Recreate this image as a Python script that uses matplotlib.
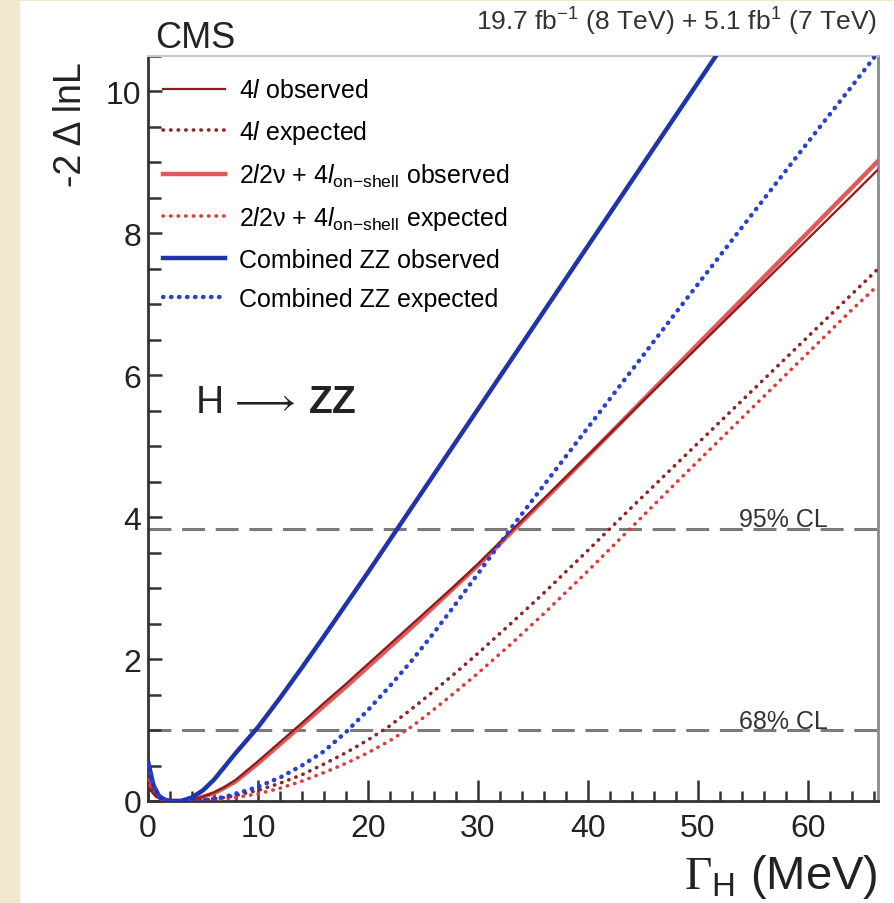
import numpy as np
import matplotlib
matplotlib.use('Agg')
import matplotlib.pyplot as plt
from matplotlib.patches import Rectangle
from matplotlib.ticker import MultipleLocator

plt.rcParams['font.family'] = ['Liberation Sans', 'DejaVu Sans']
plt.rcParams['mathtext.fontset'] = 'custom'
plt.rcParams['mathtext.rm'] = 'Liberation Sans'
plt.rcParams['mathtext.it'] = 'Liberation Sans:italic'
plt.rcParams['mathtext.bf'] = 'Liberation Sans:bold'
plt.rcParams['mathtext.sf'] = 'Liberation Sans'
plt.rcParams['mathtext.cal'] = 'Liberation Serif'

# ---------------- data ----------------
gamma = [0, 0.5, 1, 1.5, 2, 3, 4, 5, 6, 7, 8, 10, 12, 14, 16, 18, 20, 22, 24, 26,
         28, 30, 33, 36, 40, 44, 48, 52, 56, 60, 64, 66.4]
l4_obs = [0.2, 0.1, 0.04, 0.01, 0.0, 0.0, 0.02, 0.06, 0.12, 0.2, 0.3, 0.56, 0.83, 1.1,
          1.38, 1.65, 1.93, 2.21, 2.49, 2.77, 3.05, 3.34, 3.8, 4.26, 4.87, 5.48, 6.09,
          6.7, 7.31, 7.92, 8.53, 8.9]
l2v_obs = [0.25, 0.12, 0.05, 0.015, 0.0, 0.0, 0.02, 0.06, 0.11, 0.19, 0.28, 0.53, 0.8,
           1.07, 1.34, 1.61, 1.89, 2.17, 2.45, 2.74, 3.03, 3.32, 3.78, 4.24, 4.86, 5.49,
           6.12, 6.75, 7.38, 8.01, 8.64, 9.02]
l4_exp = [0.25, 0.1, 0.04, 0.015, 0.005, 0.0, 0.0, 0.01, 0.03, 0.05, 0.08, 0.15, 0.25,
          0.37, 0.52, 0.68, 0.86, 1.06, 1.3, 1.55, 1.81, 2.08, 2.5, 2.93, 3.53, 4.14,
          4.74, 5.34, 5.94, 6.54, 7.14, 7.5]
l2v_exp = [0.3, 0.12, 0.05, 0.02, 0.005, 0.0, 0.0, 0.005, 0.015, 0.03, 0.05, 0.1, 0.18,
           0.28, 0.4, 0.53, 0.68, 0.85, 1.05, 1.29, 1.54, 1.8, 2.21, 2.64, 3.24, 3.86,
           4.48, 5.09, 5.7, 6.31, 6.92, 7.27]
comb_exp = [0.5, 0.2, 0.07, 0.02, 0.0, 0.0, 0.0, 0.01, 0.03, 0.06, 0.1, 0.2, 0.33, 0.5,
            0.7, 0.97, 1.28, 1.62, 1.98, 2.37, 2.78, 3.2, 3.84, 4.45, 5.26, 6.07, 6.88,
            7.68, 8.48, 9.28, 10.07, 10.55]
gamma_comb = [0, 0.5, 1, 1.5, 2, 3, 4, 5, 6, 7, 8, 10, 12, 14, 16, 18, 20, 22, 24, 26,
              28, 30, 33, 36, 40, 44, 48, 52, 53]
comb_obs = [0.56, 0.22, 0.07, 0.02, 0.0, 0.0, 0.05, 0.15, 0.3, 0.49, 0.68, 1.04, 1.45,
            1.88, 2.32, 2.77, 3.22, 3.68, 4.14, 4.6, 5.06, 5.52, 6.21, 6.9, 7.82,
            8.74, 9.66, 10.58, 10.8]
cl_levels = [1.0, 3.84]
cl_labels = ['68% CL', '95% CL']

labels = [r'4$\mathit{l}$ observed',
          r'4$\mathit{l}$ expected',
          r'2$\mathit{l}$2ν + 4$\mathit{l}_{\mathsf{on}\mathsf{-}\mathsf{shell}}$ observed',
          r'2$\mathit{l}$2ν + 4$\mathit{l}_{\mathsf{on}\mathsf{-}\mathsf{shell}}$ expected',
          'Combined ZZ observed',
          'Combined ZZ expected']

# ---------------- figure ----------------
W, H = 895, 904
fig = plt.figure(figsize=(W / 100, H / 100), dpi=100, facecolor='#F2E8CE')
fig.add_artist(Rectangle((20 / W, 0), 1 - 20 / W, 1 - 2 / H, transform=fig.transFigure,
                         facecolor='white', edgecolor='none', zorder=-10))
ax = fig.add_axes([148 / W, 1 - 802 / H, 730 / W, 745 / H])
ax.set_xlim(0, 66.4)
ax.set_ylim(0, 10.5)

for lev, lab in zip(cl_levels, cl_labels):
    ax.axhline(lev, color='#7a7a7a', lw=2.2, ls=(0, (7.5, 3.5)), zorder=1)
    ax.text(61.8, lev + 0.03, lab, ha='right', va='baseline', fontsize=18, color='#333333')

h2 = ax.plot(gamma, l2v_obs, color='#E05A5A', lw=3.2, zorder=3)[0]
h1 = ax.plot(gamma, l4_obs, color='#8E1B1B', lw=1.6, zorder=4)[0]
h3 = ax.plot(gamma, l4_exp, color='#8E2525', lw=2.6, ls=(0, (0.1, 2.0)),
             dash_capstyle='round', zorder=3)[0]
h4 = ax.plot(gamma, l2v_exp, color='#E23A3A', lw=2.6, ls=(0, (0.1, 2.0)),
             dash_capstyle='round', zorder=3)[0]
h5 = ax.plot(gamma_comb, comb_obs, color='#1E34A8', lw=3.2, zorder=5)[0]
h6 = ax.plot(gamma, comb_exp, color='#2A40D0', lw=3.2, ls=(0, (0.1, 1.7)),
             dash_capstyle='round', zorder=5)[0]

ax.legend([h1, h3, h2, h4, h5, h6], labels, loc='upper left',
          bbox_to_anchor=(0.02, 0.970), frameon=False, fontsize=18,
          handlelength=2.5, handletextpad=0.55, labelspacing=0.62,
          borderpad=0, borderaxespad=0)

# axes styling
ax.xaxis.set_major_locator(MultipleLocator(10))
ax.xaxis.set_minor_locator(MultipleLocator(2))
ax.yaxis.set_major_locator(MultipleLocator(2))
ax.yaxis.set_minor_locator(MultipleLocator(0.5))
ax.tick_params(axis='both', which='both', direction='in', top=False, right=False,
               colors='#333333', labelcolor='#222222', width=1.8)
ax.tick_params(axis='x', which='major', length=15, pad=9, labelsize=23)
ax.tick_params(axis='x', which='minor', length=7)
ax.tick_params(axis='y', which='major', length=10, pad=5, labelsize=23)
ax.tick_params(axis='y', which='minor', length=9)
for s in ['left', 'bottom']:
    ax.spines[s].set_color('#333333')
    ax.spines[s].set_linewidth(2)
ax.spines['right'].set_color('#8a8a8a')
ax.spines['right'].set_linewidth(2)
ax.spines['top'].set_color('#c8c8c8')
ax.spines['top'].set_linewidth(1.5)

ax.set_xlabel(r'$\mathcal{\Gamma}_{\mathsf{H}}$ (MeV)', fontsize=34, color='#222222')
ax.xaxis.set_label_coords(1.0, (802 - 889) / 745)
ax.xaxis.label.set_ha('right')
ax.xaxis.label.set_va('baseline')

ax.set_ylabel('-2 Δ lnL', fontsize=27, color='#222222')
ax.yaxis.set_label_coords((71 - 148) / 730, (802 - 62) / 745)
ax.yaxis.label.set_ha('right')
ax.yaxis.label.set_va('center')

ax.text(4.3, 5.63, r'H$\,\longrightarrow\,\mathbf{ZZ}$', fontsize=28, ha='left',
        va='center', color='#222222')
ax.text(0.0096, 1.012, 'CMS', transform=ax.transAxes, fontsize=26, ha='left',
        va='baseline', color='#222222')
ax.text(0.9986, 1.036, r'19.7 fb$^{-1}$ (8 TeV) + 5.1 fb$^{1}$ (7 TeV)',
        transform=ax.transAxes, fontsize=19, ha='right', va='baseline', color='#333333')

fig.savefig('out.png', dpi=100, facecolor=fig.get_facecolor())
